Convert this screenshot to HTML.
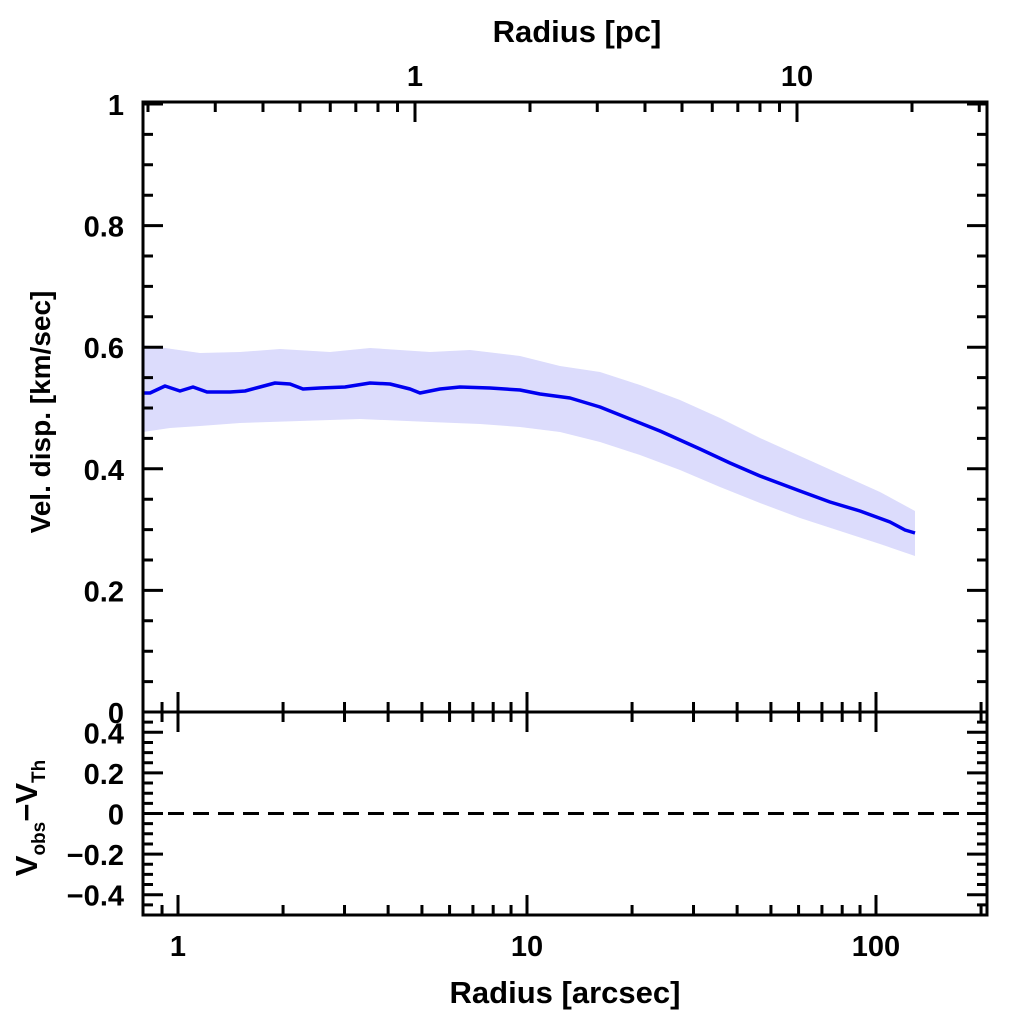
<!DOCTYPE html>
<html><head><meta charset="utf-8"><style>
body{margin:0;background:#fff;width:1024px;height:1024px;overflow:hidden}
svg text{font-family:"Liberation Sans",sans-serif;font-weight:bold;fill:#000}
</style></head><body>
<svg id="s" width="1024" height="1024" xmlns="http://www.w3.org/2000/svg"></svg>
<script>
const s=document.getElementById('s');let h='';
const L=143,R=987,T=102,M=712,B=915;
const X=v=>178+349*Math.log10(v);
const Xp=v=>415+382*Math.log10(v);
const Y=v=>712-v*608;
const Yb=v=>813.5-v*203;
const up=[[143,345],[165,348],[200,353],[240,352],[280,349],[330,352],[370,348],[430,352],[470,350],[520,356],[560,366],[600,372],[640,385],[680,400],[720,418],[760,438],[800,456],[840,474],[880,492],[915,511]];
const lo=[[143,432],[170,428],[200,426],[240,423],[300,421],[360,419],[430,422],[480,424],[520,427],[560,432],[600,442],[640,455],[680,470],[720,487],[760,503],[800,518],[840,531],[880,544],[915,556]];
let d='M'+up.map(p=>p.join(',')).join('L')+'L'+lo.slice().reverse().map(p=>p.join(',')).join('L')+'Z';
h+=`<path d="${d}" fill="#dcdcfc"/>`;
const ln=[[143,393],[150,393],[165,386],[180,391],[193,387],[207,392],[230,392],[245,391],[260,387],[275,383],[290,384],[303,389],[320,388],[345,387],[370,383],[390,384],[410,389],[420,393],[440,389],[460,387],[490,388],[520,390],[540,394],[570,398],[600,407],[630,419],[660,431],[700,449],[730,463],[760,476],[800,491],[830,502],[860,511],[890,522],[905,530],[915,533]];
h+=`<polyline points="${ln.map(p=>p.join(',')).join(' ')}" fill="none" stroke="#0000f0" stroke-width="3.5" stroke-linejoin="round"/>`;
h+=`<rect x="${L}" y="${T}" width="${R-L}" height="${B-T}" fill="none" stroke="#000" stroke-width="3"/>`;
h+=`<line x1="${L}" y1="${M}" x2="${R}" y2="${M}" stroke="#000" stroke-width="3"/>`;
h+=`<line x1="${L}" y1="813.5" x2="${R}" y2="813.5" stroke="#000" stroke-width="3" stroke-dasharray="16,9"/>`;
let t='';
for(let dec=0.1;dec<=100;dec*=10){for(let k=1;k<10;k++){const v=dec*k,x=X(v);if(x<L+2||x>R-2)continue;const len=k==1?20:10;
 t+=`M${x},${B}v${-len}M${x},${M}v${-len}M${x},${M}v${len}`;}}
for(let dec=0.1;dec<=10;dec*=10){for(let k=1;k<10;k++){const v=dec*k,x=Xp(v);if(x<L+2||x>R-2)continue;const len=k==1?20:10;t+=`M${x},${T}v${len}`;}}
for(let i=0;i<=20;i++){const v=i*0.05,y=Y(v);if(y<T+1||y>M-1)continue;const len=i%4==0?20:10;t+=`M${L},${y}h${len}M${R},${y}h${-len}`;}
for(let i=-10;i<=10;i++){const v=i*0.05,y=Yb(v);if(y<M+2||y>B-1)continue;const len=i%4==0?20:10;t+=`M${L},${y}h${len}M${R},${y}h${-len}`;}
h+=`<path d="${t}" stroke="#000" stroke-width="3" fill="none"/>`;
const tx=(x,y,s,a,sz)=>h+=`<text x="${x}" y="${y}" font-size="${sz||29}" text-anchor="${a||'middle'}">${s}</text>`;
tx(X(1),956,'1');tx(X(10),956,'10');tx(X(100),956,'100');
tx(Xp(1),86,'1');tx(Xp(10),86,'10');
tx(565,1003,'Radius [arcsec]','middle',31);tx(577,42,'Radius [pc]','middle',31);
[[1,'1'],[0.8,'0.8'],[0.6,'0.6'],[0.4,'0.4'],[0.2,'0.2'],[0,'0']].forEach(([v,s])=>tx(124,Y(v)+11,s,'end'));
[[0.4,'0.4'],[0.2,'0.2'],[0,'0'],[-0.2,'−0.2'],[-0.4,'−0.4']].forEach(([v,s])=>tx(124,Yb(v)+11,s,'end'));
h+=`<text transform="translate(50,412) rotate(-90)" font-size="28" text-anchor="middle">Vel. disp. [km/sec]</text>`;
h+=`<text transform="translate(37,818) rotate(-90)" font-size="31" text-anchor="middle">V<tspan font-size="19" dy="8">obs</tspan><tspan dy="-8">−V</tspan><tspan font-size="19" dy="8">Th</tspan></text>`;
s.innerHTML=h;
</script>
</body></html>
